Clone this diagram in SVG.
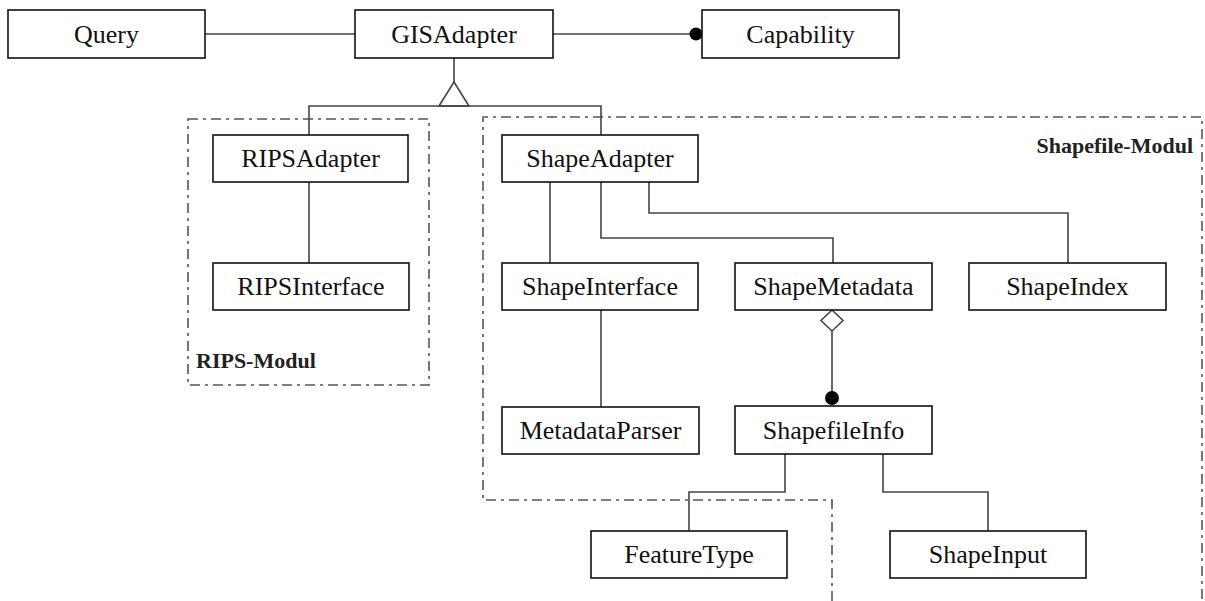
<svg xmlns="http://www.w3.org/2000/svg" width="1205" height="601" viewBox="0 0 1205 601">
<style>
.box{fill:#fff;stroke:#111;stroke-width:1.6}
.lbl{font-family:"Liberation Serif","Times New Roman",serif;font-size:26px;fill:#111;text-anchor:middle}
.mod{fill:none;stroke:#555;stroke-width:1.6;stroke-dasharray:10 5 3 5}
.modlbl{font-family:"Liberation Serif","Times New Roman",serif;font-size:22px;font-weight:bold;fill:#222}
.con{fill:none;stroke:#444;stroke-width:1.6}
</style>
<rect width="1205" height="601" fill="#fff"/>
<g id="modules">
<g id="rips-modul">
<rect class="mod" x="188" y="119" width="241" height="266"/>
<text class="modlbl" x="196" y="368">RIPS-Modul</text>
</g>
<g id="shapefile-modul">
<path class="mod" d="M832 601 V500 H483 V117 H1202 V601"/>
<text class="modlbl" x="1193" y="153" text-anchor="end">Shapefile-Modul</text>
</g>
</g>
<g id="connectors">
<path class="con" d="M205 34 H355"/>
<path class="con" d="M553 34 H690"/>
<circle cx="696" cy="34" r="6.5" fill="#000"/>
<path class="con" d="M454 58 V82"/>
<path class="con" d="M309 135 V106 H601 V135"/>
<polygon class="con" points="454,82 439,106 469,106" fill="#fff"/>
<path class="con" d="M309 182 V263"/>
<path class="con" d="M550 182 V263"/>
<path class="con" d="M601 182 V238 H833 V263"/>
<path class="con" d="M649 182 V213 H1068 V263"/>
<polygon class="con" points="832,310 843,320.5 832,331 821,320.5" fill="#fff"/>
<path class="con" d="M832 331 V392"/>
<circle cx="832" cy="398" r="7" fill="#000"/>
<path class="con" d="M601 310 V407"/>
<path class="con" d="M785 454 V492 H689 V531"/>
<path class="con" d="M883 454 V492 H988 V531"/>
</g>
<g id="Query"><rect class="box" x="8" y="10" width="197" height="48"/><text class="lbl" x="106.5" y="43">Query</text></g>
<g id="GISAdapter"><rect class="box" x="355" y="10" width="198" height="48"/><text class="lbl" x="454" y="43">GISAdapter</text></g>
<g id="Capability"><rect class="box" x="702" y="10" width="197" height="48"/><text class="lbl" x="800.5" y="43">Capability</text></g>
<g id="RIPSAdapter"><rect class="box" x="213" y="135" width="195" height="47"/><text class="lbl" x="310.5" y="167">RIPSAdapter</text></g>
<g id="RIPSInterface"><rect class="box" x="213" y="263" width="196" height="47"/><text class="lbl" x="311" y="295">RIPSInterface</text></g>
<g id="ShapeAdapter"><rect class="box" x="502" y="135" width="196" height="47"/><text class="lbl" x="600" y="167">ShapeAdapter</text></g>
<g id="ShapeInterface"><rect class="box" x="502" y="263" width="196" height="47"/><text class="lbl" x="600" y="295">ShapeInterface</text></g>
<g id="ShapeMetadata"><rect class="box" x="735" y="263" width="197" height="47"/><text class="lbl" x="833.5" y="295">ShapeMetadata</text></g>
<g id="ShapeIndex"><rect class="box" x="969" y="263" width="197" height="47"/><text class="lbl" x="1067.5" y="295">ShapeIndex</text></g>
<g id="MetadataParser"><rect class="box" x="502" y="407" width="197" height="47"/><text class="lbl" x="600.5" y="439">MetadataParser</text></g>
<g id="ShapefileInfo"><rect class="box" x="735" y="406" width="197" height="48"/><text class="lbl" x="833.5" y="439">ShapefileInfo</text></g>
<g id="FeatureType"><rect class="box" x="591" y="531" width="196" height="47"/><text class="lbl" x="689" y="563">FeatureType</text></g>
<g id="ShapeInput"><rect class="box" x="890" y="531" width="196" height="47"/><text class="lbl" x="988" y="563">ShapeInput</text></g>
</svg>
